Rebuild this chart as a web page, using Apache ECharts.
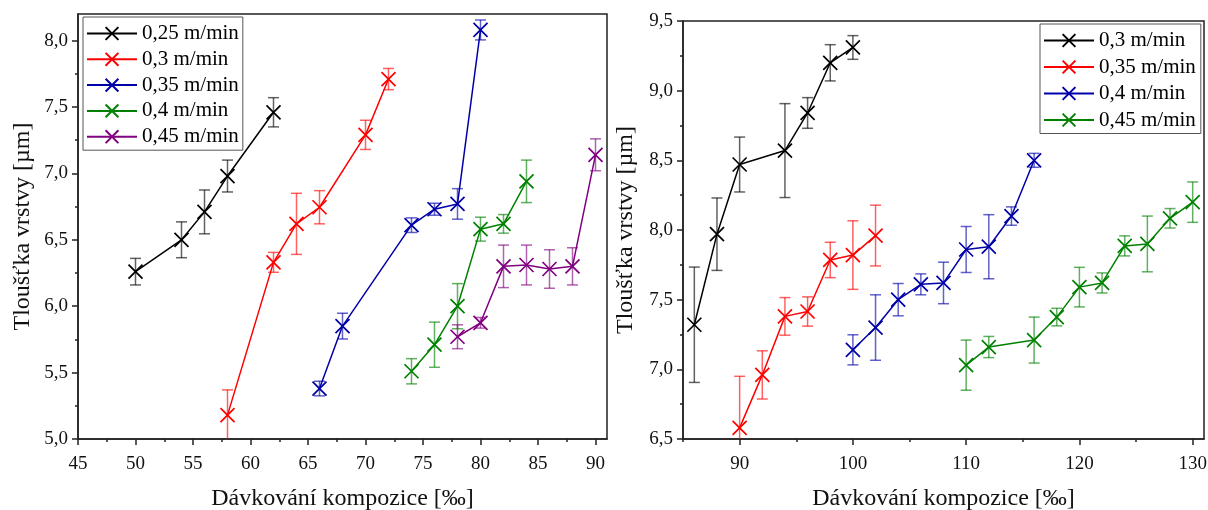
<!DOCTYPE html>
<html>
<head>
<meta charset="utf-8">
<script src="https://cdn.jsdelivr.net/npm/echarts@6/dist/echarts.min.js"></script>
<style>
  html, body { margin: 0; padding: 0; background: #fff; }
  #chart { width: 1208px; height: 510px; }
</style>
</head>
<body>
<div id="chart"></div>
<script>
// ---- Left panel: layer thickness vs. composition dosing ----
const leftX025 = [50, 54, 56, 58, 62];
const leftY025 = [6.26, 6.50, 6.71, 6.98, 7.46];
const leftE025 = [0.10, 0.135, 0.165, 0.12, 0.11];

const leftX030 = [58, 62, 64, 66, 70, 72];
const leftY030 = [5.18, 6.33, 6.62, 6.745, 7.29, 7.71];
const leftE030 = [0.19, 0.075, 0.23, 0.125, 0.11, 0.08];

const leftX035 = [66, 68, 74, 76, 78, 80];
const leftY035 = [5.38, 5.85, 6.61, 6.73, 6.77, 8.08];
const leftE035 = [0.055, 0.097, 0.055, 0.045, 0.115, 0.075];

const leftX040 = [74, 76, 78, 80, 82, 84];
const leftY040 = [5.51, 5.71, 6.00, 6.58, 6.62, 6.94];
const leftE040 = [0.095, 0.17, 0.17, 0.09, 0.07, 0.16];

const leftX045 = [78, 80, 82, 84, 86, 88, 90];
const leftY045 = [5.77, 5.875, 6.30, 6.31, 6.28, 6.30, 7.14];
const leftE045 = [0.09, 0.04, 0.16, 0.15, 0.145, 0.14, 0.12];

// ---- Right panel ----
const rightX030 = [86, 88, 90, 94, 96, 98, 100];
const rightY030 = [7.32, 7.97, 8.47, 8.57, 8.84, 9.20, 9.31];
const rightE030 = [0.414, 0.26, 0.197, 0.337, 0.11, 0.13, 0.085];

const rightX035 = [90, 92, 94, 96, 98, 100, 102];
const rightY035 = [6.58, 6.96, 7.38, 7.415, 7.785, 7.82, 7.96];
const rightE035 = [0.37, 0.173, 0.135, 0.105, 0.127, 0.246, 0.218];

const rightX040 = [100, 102, 104, 106, 108, 110, 112, 114, 116];
const rightY040 = [7.14, 7.30, 7.50, 7.61, 7.62, 7.86, 7.88, 8.10, 8.50];
const rightE040 = [0.108, 0.235, 0.116, 0.075, 0.149, 0.165, 0.23, 0.066, 0.05];

const rightX045 = [110, 112, 116, 118, 120, 122, 124, 126, 128, 130];
const rightY045 = [7.03, 7.16, 7.21, 7.375, 7.59, 7.62, 7.886, 7.90, 8.084, 8.20];
const rightE045 = [0.18, 0.076, 0.165, 0.063, 0.142, 0.072, 0.072, 0.2, 0.07, 0.145];

// ---- Labels and ticks ----
const leftNames = ['0,25 m/min', '0,3 m/min', '0,35 m/min', '0,4 m/min', '0,45 m/min'];
const rightNames = ['0,3 m/min', '0,35 m/min', '0,4 m/min', '0,45 m/min'];
const xTitle = 'Dávkování kompozice [‰]';
const yTitle = 'Tloušťka vrstvy [µm]';

const leftXTicks = [45, 50, 55, 60, 65, 70, 75, 80, 85, 90];
const leftXMinor = [47.5, 52.5, 57.5, 62.5, 67.5, 72.5, 77.5, 82.5, 87.5];
const leftYTicks = [5.0, 5.5, 6.0, 6.5, 7.0, 7.5, 8.0];
const leftYMinor = [5.25, 5.75, 6.25, 6.75, 7.25, 7.75];
const rightXTicks = [90, 100, 110, 120, 130];
const rightXMinor = [85, 95, 105, 115, 125];
const rightYTicks = [6.5, 7.0, 7.5, 8.0, 8.5, 9.0, 9.5];
const rightYMinor = [6.75, 7.25, 7.75, 8.25, 8.75, 9.25];

const leftColors = ['#000000', '#ff0000', '#0000a8', '#008000', '#800080'];
const rightColors = ['#000000', '#ff0000', '#0000a8', '#008000'];

const FONT = 'Liberation Serif';
const AXIS_COLOR = '#222';
const CROSS = 'path://M0,0L10,10M10,0L0,10';

const comma1 = v => Number(v).toFixed(1).replace('.', ',');

function mainXAxis(gridIndex, min, max, ticks, fmt) {
  return {
    type: 'value', gridIndex, min, max, position: 'bottom',
    splitLine: { show: false },
    axisLine: { show: true, onZero: false, lineStyle: { color: AXIS_COLOR, width: 1.5 } },
    axisTick: { show: true, inside: false, length: 6, customValues: ticks,
      lineStyle: { color: AXIS_COLOR, width: 1.5 } },
    axisLabel: { show: true, customValues: ticks, margin: 16, formatter: fmt,
      fontFamily: FONT, fontSize: 19, color: '#111' },
    name: xTitle, nameLocation: 'middle', nameGap: 48,
    nameTextStyle: { fontFamily: FONT, fontSize: 24, color: '#111' }
  };
}
function minorXAxis(gridIndex, min, max, ticks) {
  return {
    type: 'value', gridIndex, min, max, position: 'bottom',
    splitLine: { show: false },
    axisLine: { show: false, onZero: false },
    axisTick: { show: true, inside: false, length: 3, customValues: ticks,
      lineStyle: { color: AXIS_COLOR, width: 1.5 } },
    axisLabel: { show: false }
  };
}
function mainYAxis(gridIndex, min, max, ticks, gap) {
  return {
    type: 'value', gridIndex, min, max, position: 'left',
    splitLine: { show: false },
    axisLine: { show: true, onZero: false, lineStyle: { color: AXIS_COLOR, width: 1.5 } },
    axisTick: { show: true, inside: false, length: 6, customValues: ticks,
      lineStyle: { color: AXIS_COLOR, width: 1.5 } },
    axisLabel: { show: true, customValues: ticks, margin: 10, formatter: comma1,
      fontFamily: FONT, fontSize: 19, color: '#111' },
    name: yTitle, nameLocation: 'middle', nameGap: gap, nameRotate: 90,
    nameTextStyle: { fontFamily: FONT, fontSize: 24, color: '#111' }
  };
}
function minorYAxis(gridIndex, min, max, ticks) {
  return {
    type: 'value', gridIndex, min, max, position: 'left',
    splitLine: { show: false },
    axisLine: { show: false, onZero: false },
    axisTick: { show: true, inside: false, length: 3, customValues: ticks,
      lineStyle: { color: AXIS_COLOR, width: 1.5 } },
    axisLabel: { show: false }
  };
}

function lineSeries(name, xs, ys, color, axisIndex) {
  return {
    type: 'line', name, xAxisIndex: axisIndex, yAxisIndex: axisIndex,
    data: xs.map((x, i) => [x, ys[i]]),
    symbol: CROSS, symbolSize: 14, showSymbol: true, z: 3,
    lineStyle: { color, width: 1.5 },
    itemStyle: { color, borderColor: color, borderWidth: 1.7 },
    emphasis: { disabled: true },
    animation: false
  };
}

function errorSeries(xs, ys, es, color, axisIndex) {
  return {
    type: 'custom', xAxisIndex: axisIndex, yAxisIndex: axisIndex,
    data: xs.map((x, i) => [x, ys[i] - es[i], ys[i] + es[i]]),
    silent: true, z: 2, animation: false,
    renderItem(params, api) {
      const x = api.value(0);
      const lo = api.coord([x, api.value(1)]);
      const hi = api.coord([x, api.value(2)]);
      const cs = params.coordSys;
      const top = cs.y, bottom = cs.y + cs.height;
      const half = 5.5;
      const style = { stroke: color, lineWidth: 1.5, opacity: 0.62 };
      const children = [{
        type: 'line',
        shape: { x1: lo[0], y1: Math.max(hi[1], top), x2: lo[0], y2: Math.min(lo[1], bottom) },
        style
      }];
      if (hi[1] >= top) children.push({ type: 'line',
        shape: { x1: hi[0] - half, y1: hi[1], x2: hi[0] + half, y2: hi[1] }, style });
      if (lo[1] <= bottom) children.push({ type: 'line',
        shape: { x1: lo[0] - half, y1: lo[1], x2: lo[0] + half, y2: lo[1] }, style });
      return { type: 'group', children };
    }
  };
}

const leftSets = [
  [leftX025, leftY025, leftE025], [leftX030, leftY030, leftE030], [leftX035, leftY035, leftE035],
  [leftX040, leftY040, leftE040], [leftX045, leftY045, leftE045]
];
const rightSets = [
  [rightX030, rightY030, rightE030], [rightX035, rightY035, rightE035],
  [rightX040, rightY040, rightE040], [rightX045, rightY045, rightE045]
];

// right-panel series carry a prefix so both legends keep their own colours
const RIGHT_PREFIX = 'R|';
const series = [];
leftSets.forEach(([xs, ys, es], i) => series.push(errorSeries(xs, ys, es, leftColors[i], 0)));
rightSets.forEach(([xs, ys, es], i) => series.push(errorSeries(xs, ys, es, rightColors[i], 2)));
leftSets.forEach(([xs, ys], i) => series.push(lineSeries(leftNames[i], xs, ys, leftColors[i], 0)));
rightSets.forEach(([xs, ys], i) => series.push(lineSeries(RIGHT_PREFIX + rightNames[i], xs, ys, rightColors[i], 2)));

const legendCommon = {
  orient: 'vertical', itemWidth: 50, itemHeight: 16,
  borderColor: '#555', borderWidth: 1, backgroundColor: '#fff',
  selectedMode: false,
  textStyle: { fontFamily: FONT, fontSize: 21, color: '#000', lineHeight: 21 }
};

const option = {
  backgroundColor: '#fff',
  animation: false,
  grid: [
    { left: 78, top: 14, width: 529, height: 425, show: true, borderColor: AXIS_COLOR, borderWidth: 1.5,
      containLabel: false, outerBoundsMode: 'none' },
    { left: 683, top: 21, width: 521, height: 418, show: true, borderColor: AXIS_COLOR, borderWidth: 1.5,
      containLabel: false, outerBoundsMode: 'none' }
  ],
  xAxis: [
    mainXAxis(0, 45, 91, leftXTicks, v => String(v)),
    minorXAxis(0, 45, 91, leftXMinor),
    mainXAxis(1, 85, 131, rightXTicks, v => String(v)),
    minorXAxis(1, 85, 131, rightXMinor)
  ],
  yAxis: [
    mainYAxis(0, 5.0, 8.2, leftYTicks, 43),
    minorYAxis(0, 5.0, 8.2, leftYMinor),
    mainYAxis(1, 6.5, 9.5, rightYTicks, 45),
    minorYAxis(1, 6.5, 9.5, rightYMinor)
  ],
  legend: [
    Object.assign({}, legendCommon, { left: 83, top: 17, padding: [6, 4, 3, 3], itemGap: 4.8,
      itemTextGap: 2, data: leftNames }),
    Object.assign({}, legendCommon, { left: 1040, top: 24, padding: [6, 5, 3, 3], itemGap: 5.5,
      itemTextGap: 5, data: rightNames.map(n => RIGHT_PREFIX + n),
      formatter: n => n.replace(RIGHT_PREFIX, '') })
  ],
  series
};

const chart = echarts.init(document.getElementById('chart'), null, { renderer: 'canvas' });
chart.setOption(option);
</script>
</body>
</html>
